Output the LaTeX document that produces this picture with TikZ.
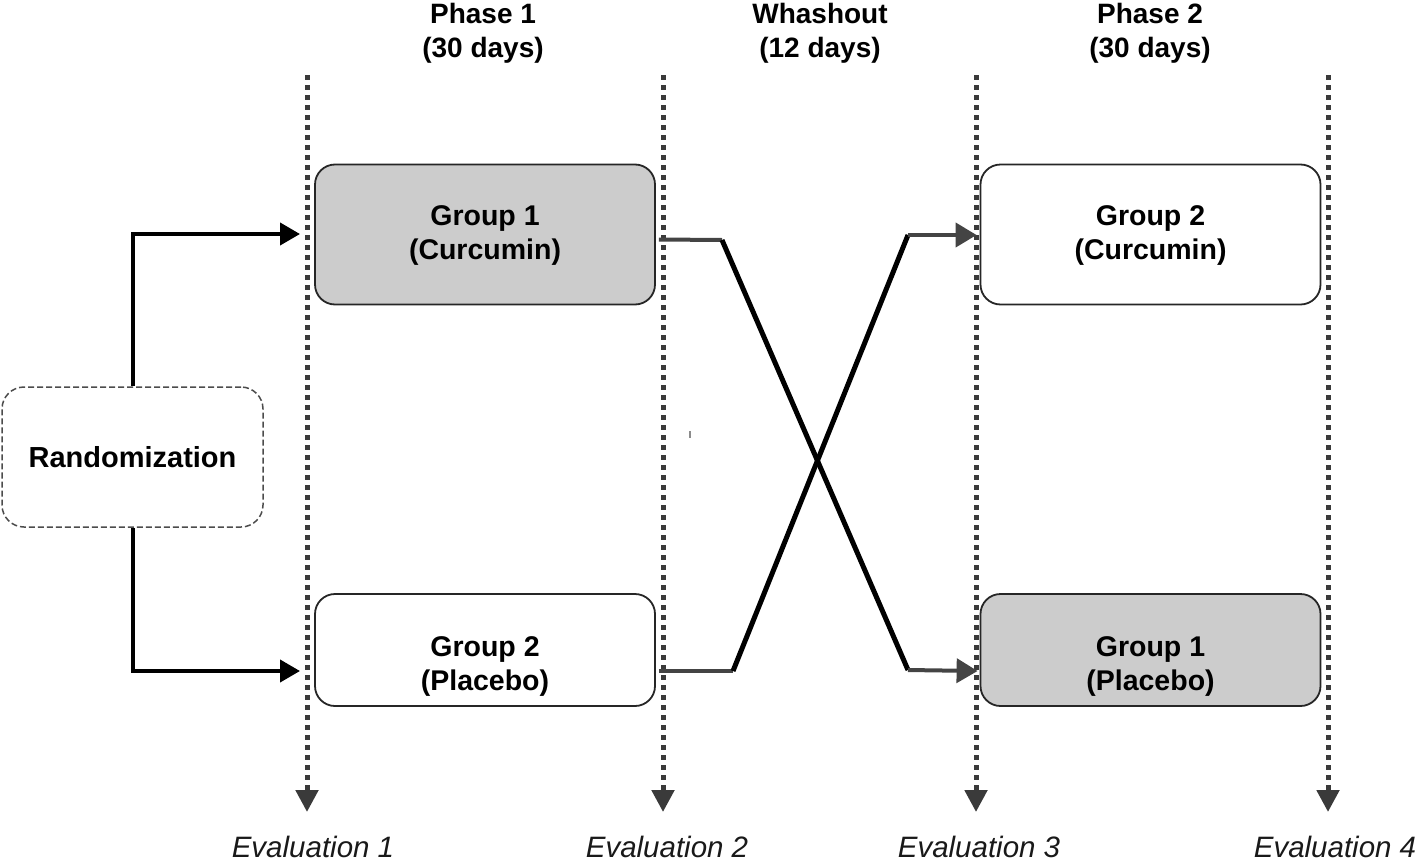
\documentclass[tikz,border=0pt]{standalone}
\usepackage{fontspec}
\setmainfont{Liberation Sans}
\usetikzlibrary{arrows.meta,calc}
\definecolor{boxgray}{HTML}{CCCCCC}
\definecolor{dk}{HTML}{3A3A3A}
\definecolor{ln}{HTML}{444444}
\begin{document}
\begin{tikzpicture}[x=1pt,y=-1pt,
  grp/.style={draw=black!85, line width=1.8pt, rounded corners=20pt, minimum width=340pt},
  gtxt/.style={align=center, font=\fontsize{28.5}{34}\selectfont\bfseries},
  hdr/.style={align=center, font=\fontsize{28}{34}\selectfont\bfseries},
  evlab/.style={anchor=base, inner sep=0pt, font=\fontsize{29.5}{33}\selectfont\itshape, text=black!90},
  evline/.style={draw=dk, line width=5pt, dash pattern=on 5pt off 5pt, -{Triangle[length=22pt,width=22pt]}},
  thin/.style={draw=ln, line width=4pt},
  thick/.style={draw=black, line width=5pt},
  arr/.style={-{Triangle[length=21pt,width=24pt]}},
  rline/.style={draw=black, line width=4pt, -{Triangle[length=20pt,width=22pt]}}
]
\useasboundingbox (0,0) rectangle (1418,862);

% headers
\node[hdr] (h1) at (483,33) {Phase 1\\(30 days)};
\node[hdr] (h2) at (820,33) {Whashout\\(12 days)};
\node[hdr] (h3) at (1150,33) {Phase 2\\(30 days)};

% evaluation lines
\coordinate (t1) at (307,75); \coordinate (b1) at (307,812);
\coordinate (t2) at (663,75); \coordinate (b2) at (663,812);
\coordinate (t3) at (976,75); \coordinate (b3) at (976,812);
\coordinate (t4) at (1328,75); \coordinate (b4) at (1328,812);

% boxes
\node[grp, fill=boxgray, minimum height=140pt] (g1a) at (485,234.5) {};
\node[grp, fill=white, minimum height=112pt] (g2a) at (485,650) {};
\node[grp, fill=white, minimum height=140pt] (g2b) at (1150.5,234.5) {};
\node[grp, fill=boxgray, minimum height=112pt] (g1b) at (1150.5,650) {};
\node[gtxt] (g1at) at (485,236) {Group 1\\(Curcumin)};
\node[gtxt] (g2at) at (485,666) {Group 2\\(Placebo)};
\node[gtxt] (g2bt) at (1150.5,236) {Group 2\\(Curcumin)};
\node[gtxt] (g1bt) at (1150.5,666) {Group 1\\(Placebo)};

\draw[evline] (t1) -- (b1);
\draw[evline] (t2) -- (b2);
\draw[evline] (t3) -- (b3);
\draw[evline] (t4) -- (b4);

\node[evlab] (e1) at (313,857) {Evaluation 1};
\node[evlab] (e2) at (667,857) {Evaluation 2};
\node[evlab] (e3) at (979,857) {Evaluation 3};
\node[evlab] (e4) at (1335,857) {Evaluation 4};

% randomization
\node[draw=black!70, line width=1.5pt, dash pattern=on 6pt off 3pt, rounded corners=22pt,
  minimum width=261pt, minimum height=140pt, font=\fontsize{29}{33}\selectfont\bfseries] (rand) at (132.5,457) {Randomization};

\coordinate (r1) at (300,234);
\coordinate (r2) at (300,671);
\draw[rline] (rand.north -| 133,0) |- (r1);
\draw[rline] (rand.south -| 133,0) |- (r2);

% crossover
\coordinate (a1) at (722,240);
\coordinate (a2) at (908,670);
\coordinate (c1) at (733,671);
\coordinate (c2) at (908,235);
\draw[thin] ($(g1a.east)+(3,5)$) -- (a1);
\draw[thick, line join=round] (a1) -- (a2);
\draw[thin, arr] (a2) -- ($(g1b.west)+(-2,21)$);
\draw[thin] ($(g2a.east)+(3,21)$) -- (c1);
\draw[thick, line join=round] (c1) -- (c2);
\draw[thin, arr] (c2) -- ($(g2b.west)+(-3,0.5)$);

% small mark
\draw[black!45, line width=1.5pt] (690,431) -- (690,438);
\end{tikzpicture}
\end{document}
